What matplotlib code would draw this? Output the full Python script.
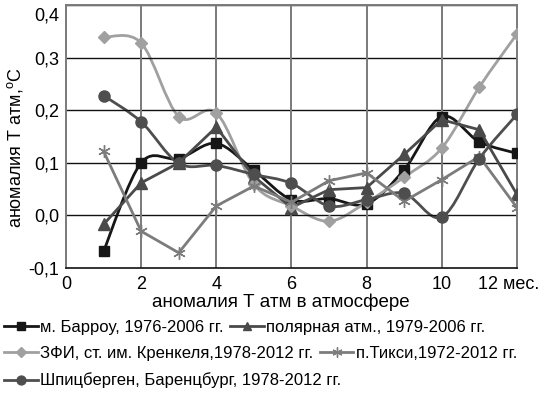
import matplotlib
matplotlib.use("Agg")
import matplotlib.pyplot as plt
import matplotlib.transforms as mtransforms
import numpy as np
from matplotlib.path import Path
from matplotlib.patches import PathPatch
from matplotlib.lines import Line2D

plt.rcParams["font.family"] = ["Liberation Sans", "DejaVu Sans"]
plt.rcParams["mathtext.fontset"] = "custom"
plt.rcParams["mathtext.rm"] = "Liberation Sans"

months = [1, 2, 3, 4, 5, 6, 7, 8, 9, 10, 11, 12]
barrow = [-0.068, 0.100, 0.108, 0.137, 0.086, 0.030, 0.032, 0.022, 0.087, 0.188, 0.140, 0.118]
polar = [-0.017, 0.062, 0.100, 0.168, 0.074, 0.015, 0.049, 0.053, 0.116, 0.182, 0.163, 0.040]
zfi = [0.339, 0.328, 0.188, 0.195, 0.059, 0.018, -0.011, 0.025, 0.073, 0.128, 0.244, 0.345]
tiksi = [0.122, -0.030, -0.071, 0.018, 0.056, 0.025, 0.066, 0.081, 0.027, 0.068, 0.112, 0.015]
spits = [0.228, 0.178, 0.099, 0.095, 0.078, 0.061, 0.018, 0.030, 0.042, -0.003, 0.108, 0.192]

labels = [
    "м. Барроу, 1976-2006 гг.",
    "полярная атм., 1979-2006 гг.",
    "ЗФИ, ст. им. Кренкеля,1978-2012 гг.",
    "п.Тикси,1972-2012 гг.",
    "Шпицберген, Баренцбург, 1978-2012 гг.",
]

xticks = [0, 2, 4, 6, 8, 10, 12]
xtick_labels = ["0", "2", "4", "6", "8", "10", "12 мес."]
yticks = [-0.1, 0.0, 0.1, 0.2, 0.3, 0.4]
ytick_labels = ["-0,1", "0,0", "0,1", "0,2", "0,3", "0,4"]


def smooth_patch(x, y, color, lw):
    """Excel-like smoothed line drawn through the points (Catmull-Rom as Bezier)."""
    p = np.column_stack([x, y]).astype(float)
    n = len(p)
    verts = [p[0]]
    codes = [Path.MOVETO]
    for i in range(n - 1):
        p0 = p[max(i - 1, 0)]
        p1 = p[i]
        p2 = p[i + 1]
        p3 = p[min(i + 2, n - 1)]
        c1 = p1 + (p2 - p0) / 6.0
        c2 = p2 - (p3 - p1) / 6.0
        verts += [c1, c2, p2]
        codes += [Path.CURVE4] * 3
    return PathPatch(Path(verts, codes), fill=False, edgecolor=color, lw=lw,
                     capstyle="round", joinstyle="round")


fig = plt.figure(figsize=(5.57, 3.93), dpi=100)
ax = fig.add_axes([0.1185, 0.318, 0.8095, 0.669])

series = [
    (barrow, "#161616", "s", 7, True),
    (polar, "#4a4a4a", "^", 8, False),
    (zfi, "#a0a0a0", "D", 6, True),
    (tiksi, "#7c7c7c", (6, 2, 0), 9, False),
    (spits, "#4e4e4e", "o", 8, True),
]

handles = []
for (vals, col, mk, ms, smooth), lab in zip(series, labels):
    lw = 2.0
    if smooth:
        ax.add_patch(smooth_patch(months, vals, col, lw))
        ax.plot(months, vals, ls="none", marker=mk, ms=ms, color=col, zorder=3)
    else:
        ax.plot(months, vals, lw=lw, marker=mk, ms=ms, color=col, zorder=3)
    handles.append(Line2D([], [], color=col, lw=lw, marker=mk, ms=ms * 0.8, label=lab))

ax.set_xlim(0, 12)
ax.set_ylim(-0.1, 0.4)
ax.set_xticks(xticks)
ax.set_xticklabels(xtick_labels)
ax.set_yticks(yticks)
ax.set_yticklabels(ytick_labels)
ax.tick_params(length=0, labelsize=13)
ax.tick_params(axis="y", pad=5)
ax.tick_params(axis="x", pad=6)

# "12 мес." sits a little left of its tick in the original
last = ax.get_xticklabels()[-1]
last.set_transform(last.get_transform() + mtransforms.ScaledTranslation(-0.08, 0, fig.dpi_scale_trans))
# top label pushed inside the figure
top = ax.get_yticklabels()[-1]
top.set_transform(top.get_transform() + mtransforms.ScaledTranslation(0, -0.09, fig.dpi_scale_trans))

for yv in yticks[1:]:
    ax.axhline(yv, color="#111111", lw=1.0, zorder=1)
for xv in xticks[1:-1]:
    ax.axvline(xv, color="#7a7a7a", lw=1.4, zorder=1)
for side in ["left", "right", "top"]:
    ax.spines[side].set_color("#7a7a7a")
    ax.spines[side].set_linewidth(1.4)
ax.spines["bottom"].set_color("#111111")
ax.spines["bottom"].set_linewidth(1.2)

ax.set_ylabel("аномалия Т атм,$^{\\mathrm{o}}$С", fontsize=13)
ax.yaxis.set_label_coords(-0.092, 0.46)
ax.set_xlabel("аномалия Т атм в атмосфере", fontsize=13.5)
ax.xaxis.set_label_coords(0.476, -0.098)
ax.xaxis.label.set_va("top")

leg_kw = dict(frameon=False, fontsize=12, handlelength=2.0, handletextpad=0.15,
              columnspacing=0.4, borderpad=0, borderaxespad=0, loc="upper left")
fig.legend(handles=handles[0:2], ncol=2, bbox_to_anchor=(0.008, 0.186), **leg_kw)
fig.legend(handles=handles[2:4], ncol=2, bbox_to_anchor=(0.008, 0.119), **leg_kw)
fig.legend(handles=handles[4:5], ncol=1, bbox_to_anchor=(0.008, 0.052), **leg_kw)

fig.savefig("out.png", dpi=100)
